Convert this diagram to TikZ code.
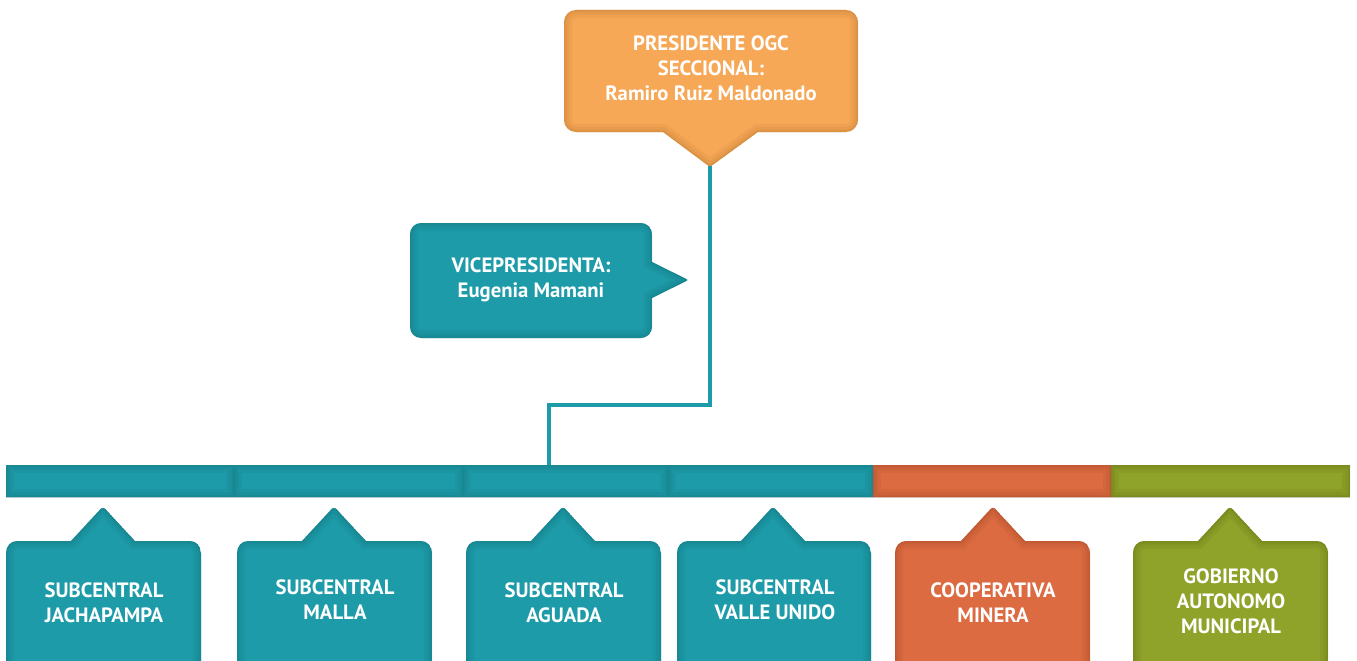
\documentclass[tikz,border=0pt]{standalone}
\usepackage{fontspec}
\setmainfont{PT Sans}
\usetikzlibrary{calc}
\definecolor{cteal}{HTML}{1D9BA8}
\definecolor{cteald}{HTML}{0E5F69}
\definecolor{corange}{HTML}{F7A857}
\definecolor{coranged}{HTML}{A0621F}
\definecolor{cred}{HTML}{DC6B42}
\definecolor{credd}{HTML}{8A3517}
\definecolor{colive}{HTML}{8FA229}
\definecolor{colived}{HTML}{4F5A0C}
\tikzset{
  lbl/.style={text=white, font=\bfseries\fontsize{20.7}{25}\selectfont, align=center, inner sep=0pt},
  glow/.style={draw=#1, draw opacity=0.09},
  conn/.style={draw=cteal, line width=4.8pt}
}
% filled shape with soft darker inner edge
\newcommand{\glowshape}[3]{%
  \begin{scope}
    \clip #3;
    \fill[#1] #3;
    \draw[glow=#2, line width=16pt] #3;
    \draw[glow=#2, line width=10pt] #3;
    \draw[glow=#2, line width=5pt] #3;
    \draw[glow=#2, line width=2pt] #3;
  \end{scope}}
\newcommand{\subbox}[5]{% L R X fill dark
  \glowshape{#4}{#5}{(#1,680) -- (#1,553) .. controls (#1,546.4) and (#1+4.6,541) .. (#1+11,541) -- (#3-32,541) -- (#3-2,508.6) .. controls (#3-1,507.6) and (#3+1,507.6) .. (#3+2,508.6) -- (#3+32,541) -- (#2-11,541) .. controls (#2-4.6,541) and (#2,546.4) .. (#2,553) -- (#2,680) -- cycle}}
\begin{document}
\begin{tikzpicture}[x=1pt,y=-1pt]
\useasboundingbox (0,0) rectangle (1357,661);
\clip (0,0) rectangle (1357,661);
\fill[white] (0,0) rectangle (1357,661);

% top box
\glowshape{corange}{coranged}{(564,22) .. controls (564,15.4) and (569.4,10) .. (576,10) -- (846,10) .. controls (852.6,10) and (858,15.4) .. (858,22) -- (858,120) .. controls (858,126.6) and (852.6,132) .. (846,132) -- (758,132) -- (711.6,165.8) .. controls (710.8,166.4) and (709.2,166.4) .. (708.4,165.8) -- (663,132) -- (576,132) .. controls (569.4,132) and (564,126.6) .. (564,120) -- cycle}
\node[lbl] (pres) at (711,68) {PRESIDENTE OGC\\SECCIONAL:\\Ramiro Ruiz Maldonado};
\coordinate (ptip) at (710,166);

% vice box
\glowshape{cteal}{cteald}{(410,234) .. controls (410,228) and (415,223) .. (421,223) -- (641,223) .. controls (647,223) and (652,228) .. (652,234) -- (652,262) -- (686.4,279) .. controls (687.6,279.6) and (687.6,280.4) .. (686.4,281) -- (652,298) -- (652,327) .. controls (652,333) and (647,338) .. (641,338) -- (421,338) .. controls (415,338) and (410,333) .. (410,327) -- cycle}
\node[lbl] (vice) at (531,280) {VICEPRESIDENTA:\\Eugenia Mamani};

% connector
\coordinate (bartop) at (549,467);
\draw[conn] (ptip) |- ($(bartop)+(0,-62)$) -- (bartop);

% bar
\foreach \a/\b/\c/\d in {6/234/cteal/cteald,234/463/cteal/cteald,463/668/cteal/cteald,668/873/cteal/cteald,873/1111/cred/credd,1111/1350/colive/colived}{
  \glowshape{\c}{\d}{(\a,465) rectangle (\b,497)}
}

% bottom boxes
\subbox{6}{201}{103}{cteal}{cteald}
\subbox{237}{432}{334}{cteal}{cteald}
\subbox{466}{661}{563}{cteal}{cteald}
\subbox{677}{871}{773}{cteal}{cteald}
\subbox{895}{1090}{993}{cred}{credd}
\subbox{1133}{1328}{1230}{colive}{colived}

\node[lbl] (s1) at (104,603) {SUBCENTRAL\\JACHAPAMPA};
\node[lbl] (s2) at (335,600) {SUBCENTRAL\\MALLA};
\node[lbl] (s3) at (564,603) {SUBCENTRAL\\AGUADA};
\node[lbl] (s4) at (775,600) {SUBCENTRAL\\VALLE UNIDO};
\node[lbl] (s5) at (993,603) {COOPERATIVA\\MINERA};
\node[lbl] (s6) at (1231,601) {GOBIERNO\\AUTONOMO\\MUNICIPAL};
\end{tikzpicture}
\end{document}
